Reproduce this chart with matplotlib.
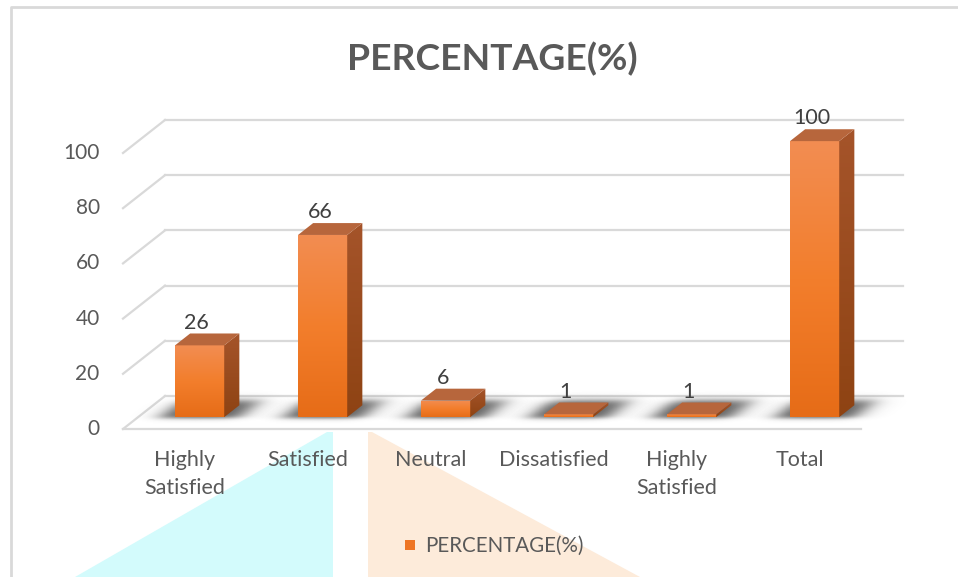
import numpy as np
import matplotlib.pyplot as plt
from matplotlib.patches import Polygon, Rectangle
from matplotlib.colors import LinearSegmentedColormap

# --- data ---
categories = ["Highly\nSatisfied", "Satisfied", "Neutral", "Dissatisfied", "Highly\nSatisfied", "Total"]
values = [26, 66, 6, 1, 1, 100]
yticks = [0, 20, 40, 60, 80, 100]
title = "PERCENTAGE(%)"
series_name = "PERCENTAGE(%)"

# --- layout (pixel mapping of the front plane) ---
W, H = 958, 577
X0PX, XSC = 123, 123.0     # x=0 at 123px, one category = 123px
Y0PX, YSC = 429, 2.76      # value 0 at 429px, 2.76px per unit
DX, DY = 42 / XSC, 33 / YSC  # depth offset (front -> back wall)
bar_w = 0.40
d0, d1 = 0.36, 0.72          # bar depth range
text_col = "#595959"
grid_col = "#D9D9D9"
font = "Lato"

plt.rcParams['font.family'] = [font, 'DejaVu Sans']

fig = plt.figure(figsize=(W / 100, H / 100), dpi=100)
ax = fig.add_axes([0, 0, 1, 1])
ax.set_xlim((0 - X0PX) / XSC, (W - X0PX) / XSC)
ax.set_ylim((Y0PX - H) / YSC, Y0PX / YSC)
ax.axis('off')


def proj(x, y, d):
    return x + d * DX, y + d * DY


def px(xp, yp):
    return (xp - X0PX) / XSC, (Y0PX - yp) / YSC


# watermark remnants from the scan
ax.add_patch(Polygon([px(75, 577), px(327, 432), px(333, 432), px(333, 577)],
                     closed=True, fc="#D3FBFC", ec="none", zorder=0))
ax.add_patch(Polygon([px(368, 577), px(368, 432), px(372, 432), px(640, 577)],
                     closed=True, fc="#FDEBDA", ec="none", zorder=0))

# frame
fig.add_artist(plt.Line2D([11 / W, 11 / W, 1], [0, 1 - 7 / H, 1 - 7 / H],
                          transform=fig.transFigure, color=grid_col, lw=2))

n = len(values)
# back wall gridlines + side wall diagonals
for t in yticks:
    xa, ya = proj(0, t, 1)
    xb, yb = proj(n, t, 1)
    ax.plot([xa, xb], [ya, yb], color=grid_col, lw=1.6, zorder=1)
    ax.plot([0, xa], [t, ya], color=grid_col, lw=1.6, zorder=1)
    ax.text(-0.19, t, str(t), ha="right", va="center", fontsize=15, color=text_col)
# front floor edge
ax.plot([0, n], [0, 0], color=grid_col, lw=1.6, zorder=1)

front_cmap = LinearSegmentedColormap.from_list("front", ["#E66C17", "#F37E2C", "#F28D52"])
side_cmap = LinearSegmentedColormap.from_list("side", ["#8E4313", "#A5542A"])
grad = np.linspace(0, 1, 256).reshape(-1, 1)


def soft(z, w):
    return 1 / (1 + np.exp(-z / w))


for i, v in enumerate(values):
    xc = i + 0.5
    xl, xr = xc - bar_w / 2, xc + bar_w / 2

    # soft shadow on the floor
    ex = (xl - 0.4, xr + 0.8)
    ey = (-5.0, 18.0)
    gx, gy = np.meshgrid(np.linspace(*ex, 240), np.linspace(*ey, 100))
    dd = gy / DY
    xf = gx - dd * DX
    alpha = (soft(xf - (xl - 0.12), 0.05) * soft((xr + 0.12) - xf, 0.055)
             * soft(dd - (d0 - 0.03), 0.035) * soft((d1 + 0.14) - dd, 0.06))
    rgba = np.zeros(gx.shape + (4,))
    rgba[..., :3] = 0.2
    rgba[..., 3] = alpha * 0.8
    ax.imshow(rgba, origin="lower", aspect="auto", extent=(ex[0], ex[1], ey[0], ey[1]),
              zorder=2, interpolation="bilinear")

    # front face
    fx0, fy0 = proj(xl, 0, d0)
    fx1, fy1 = proj(xr, v, d0)
    front = Rectangle((fx0, fy0), fx1 - fx0, fy1 - fy0, fc="none", ec="none", zorder=4)
    ax.add_patch(front)
    im = ax.imshow(grad, cmap=front_cmap, aspect="auto", origin="lower",
                   extent=(fx0, fx1, fy0, fy1), zorder=4)
    im.set_clip_path(front)

    # right side face
    side_pts = [proj(xr, 0, d0), proj(xr, 0, d1), proj(xr, v, d1), proj(xr, v, d0)]
    side = Polygon(side_pts, closed=True, fc="none", ec="none", zorder=4)
    ax.add_patch(side)
    sx = [p[0] for p in side_pts]
    sy = [p[1] for p in side_pts]
    im2 = ax.imshow(grad, cmap=side_cmap, aspect="auto", origin="lower",
                    extent=(min(sx), max(sx), min(sy), max(sy)), zorder=4)
    im2.set_clip_path(side)

    # top face
    top_pts = [proj(xl, v, d0), proj(xr, v, d0), proj(xr, v, d1), proj(xl, v, d1)]
    ax.add_patch(Polygon(top_pts, closed=True, fc="#B7663C", ec="none", zorder=5))

    # value label
    ax.text(xc + 0.1, v + 12.5, str(v), ha="center", va="center",
            fontsize=15.5, color="#404040", zorder=6)

    # category label
    ax.text(xc, -7.5, categories[i], ha="center", va="top", fontsize=15.5,
            color=text_col, linespacing=1.5, zorder=6)

# title
fig.text(492 / W, 1 - 59 / H, title, ha="center", va="center", fontsize=26.8,
         fontweight="bold", color=text_col)

# legend
lx, ly = px(405, 550)
ax.add_patch(Rectangle((lx, ly), 10 / XSC, 10 / YSC, fc="#EE7524", ec="none", zorder=6))
tx, ty = px(425, 546)
ax.text(tx, ty, series_name, ha="left", va="center", fontsize=14.8, color=text_col, zorder=6)

fig.savefig("out.png", dpi=100)
